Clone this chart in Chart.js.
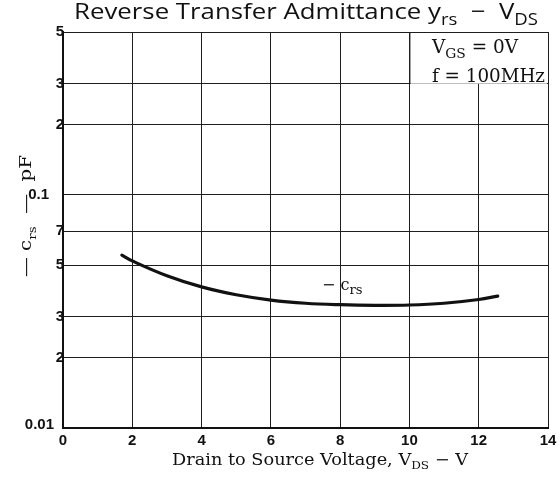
<!DOCTYPE html>
<html>
<head>
<meta charset="utf-8">
<script src="https://cdn.jsdelivr.net/npm/chart.js@4"></script>
<style>
html, body { margin: 0; padding: 0; background: #fff; }
</style>
</head>
<body>
<canvas id="myChart" width="560" height="486"></canvas>
<script>
// values
const vds = [1.7, 2, 3, 4, 5, 6, 7, 8, 9, 10, 11, 12, 12.55];
const crs = [0.0552, 0.0521, 0.0450, 0.0403, 0.0373, 0.0354, 0.0343, 0.0338, 0.0336, 0.0337, 0.0343, 0.0356, 0.0368];
const xTicks = [0, 2, 4, 6, 8, 10, 12, 14];
const yTicks = [0.01, 0.02, 0.03, 0.05, 0.07, 0.1, 0.2, 0.3, 0.5];
const yTickLabels = ['0.01', '2', '3', '5', '7', '0.1', '2', '3', '5'];

const SERIF = '"DejaVu Serif", serif';
const SANS = '"Open Sans", sans-serif';
const INK = '#111';

function setFont(ctx, size, family, weight) {
    ctx.font = (weight || 'normal') + ' ' + size + 'px ' + family;
}

function richWidth(ctx, parts, o) {
    let w = 0;
    parts.forEach(p => {
        setFont(ctx, p.sub ? o.size * (o.subRatio || 0.68) : o.size, o.family, o.weight);
        w += ctx.measureText(p.t).width;
    });
    return w;
}

// text with subscripts, optionally squeezed to a width
function drawRich(ctx, parts, x, y, o) {
    ctx.save();
    ctx.letterSpacing = (o.spacing || 0) + 'px';
    ctx.translate(x, y);
    if (o.rotate) ctx.rotate(o.rotate);
    const w = richWidth(ctx, parts, o);
    const sx = o.width ? o.width / w : 1;
    ctx.scale(sx, 1);
    let cx = o.align === 'center' ? -w / 2 : 0;
    ctx.textBaseline = 'alphabetic';
    ctx.textAlign = 'left';
    ctx.fillStyle = INK;
    parts.forEach(p => {
        setFont(ctx, p.sub ? o.size * (o.subRatio || 0.68) : o.size, o.family, o.weight);
        ctx.fillText(p.t, cx, p.sub ? o.size * 0.28 : 0);
        cx += ctx.measureText(p.t).width;
    });
    ctx.restore();
}

const textPlugin = {
    id: 'texts',
    afterDraw(chart) {
        const ctx = chart.ctx;
        const xs = chart.scales.x;
        const ys = chart.scales.y;
        const area = chart.chartArea;

        // condition box, top right
        const bx = xs.getPixelForValue(10);
        const by = ys.getPixelForValue(0.3);
        ctx.save();
        ctx.fillStyle = '#fff';
        ctx.fillRect(bx + 1, area.top + 1, area.right - bx - 2, by - area.top - 1);
        ctx.strokeStyle = '#222';
        ctx.lineWidth = 1;
        ctx.beginPath();
        ctx.moveTo(bx + 0.5, area.top);
        ctx.lineTo(bx + 0.5, by);
        ctx.stroke();
        ctx.restore();
        drawRich(ctx, [{t: 'V'}, {t: 'GS', sub: true}, {t: ' = 0V'}], 432, 53, {size: 18, family: SERIF, width: 86, subRatio: 0.75});
        drawRich(ctx, [{t: 'f = 100MHz'}], 432, 82, {size: 18, family: SERIF, width: 113});

        // curve label
        drawRich(ctx, [{t: '− c'}, {t: 'rs', sub: true}], 322, 290, {size: 16, family: SERIF, subRatio: 0.82});

        // tick labels
        ctx.save();
        ctx.fillStyle = INK;
        setFont(ctx, 15, '"Liberation Sans", Arial, sans-serif', 'bold');
        ctx.textAlign = 'center';
        ctx.textBaseline = 'top';
        xTicks.forEach(v => ctx.fillText(String(v), xs.getPixelForValue(v), area.bottom + 5));
        ctx.textAlign = 'right';
        yTicks.forEach((v, i) => {
            const py = ys.getPixelForValue(v);
            const lab = yTickLabels[i];
            if (lab === '0.01') {
                ctx.textBaseline = 'alphabetic';
                ctx.fillText(lab, area.left - 9, py + 1);
            } else if (lab === '0.1') {
                ctx.textBaseline = 'middle';
                ctx.fillText(lab, area.left - 14, py);
            } else {
                ctx.textBaseline = 'middle';
                ctx.fillText(lab, area.left + 1, py);
            }
        });
        ctx.restore();

        // titles
        drawRich(ctx, [{t: 'Reverse Transfer Admittance y'}, {t: 'rs', sub: true}, {t: '  −  V'}, {t: 'DS', sub: true}],
            306, 19, {size: 22, family: SANS, width: 464, align: 'center', subRatio: 0.72});
        drawRich(ctx, [{t: 'Drain to Source Voltage, V'}, {t: 'DS', sub: true}, {t: ' − V'}],
            320, 465, {size: 16, family: SERIF, width: 296, align: 'center'});
        drawRich(ctx, [{t: '— c'}, {t: 'rs', sub: true}, {t: '  —  pF'}],
            31, 216, {size: 17, family: SERIF, width: 122, align: 'center', rotate: -Math.PI / 2});
    }
};

const ctx = document.getElementById('myChart').getContext('2d');
const myChart = new Chart(ctx, {
    type: 'line',
    data: {
        datasets: [{
            label: '-crs',
            data: vds.map((v, i) => ({x: v, y: crs[i]})),
            borderColor: INK,
            borderWidth: 3.2,
            borderCapStyle: 'round',
            pointRadius: 0,
            fill: false,
            tension: 0.4
        }]
    },
    options: {
        responsive: false,
        devicePixelRatio: 1,
        animation: false,
        layout: {
            padding: {left: 63, right: 12, top: 32, bottom: 58}
        },
        plugins: {
            legend: {display: false},
            title: {display: false},
            tooltip: {enabled: false}
        },
        scales: {
            x: {
                type: 'linear',
                min: 0,
                max: 14,
                afterBuildTicks: scale => { scale.ticks = xTicks.map(v => ({value: v})); },
                ticks: {display: false},
                grid: {color: '#1e1e1e', lineWidth: 1, drawTicks: false},
                border: {display: true, color: '#111', width: 2}
            },
            y: {
                type: 'logarithmic',
                min: 0.01,
                max: 0.5,
                afterBuildTicks: scale => { scale.ticks = yTicks.map(v => ({value: v})); },
                ticks: {display: false},
                grid: {color: '#1e1e1e', lineWidth: 1, drawTicks: false},
                border: {display: true, color: '#111', width: 2}
            }
        }
    },
    plugins: [textPlugin]
});
</script>
</body>
</html>
